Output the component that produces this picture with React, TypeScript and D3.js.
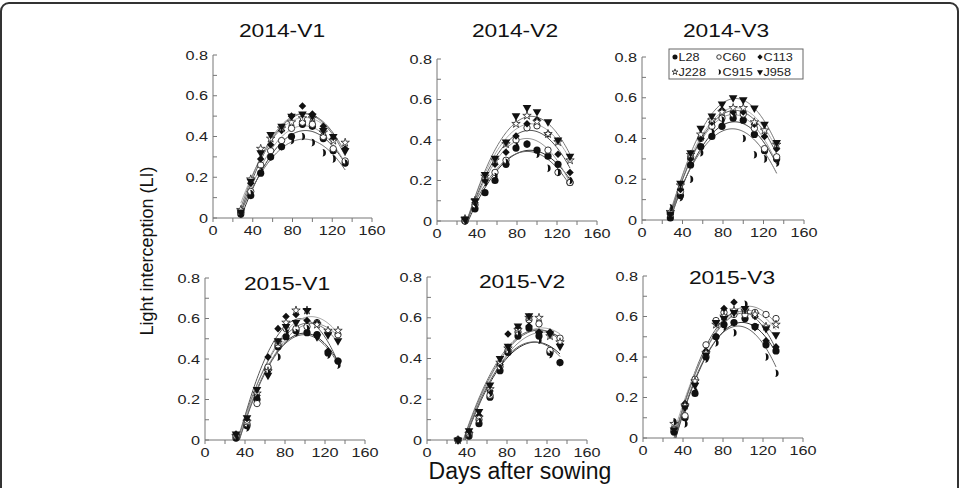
import React from 'react'
import * as d3 from 'd3'

// sampling days (days after sowing)
const days2014 = [28, 38, 48, 58, 69, 79, 90, 100, 111, 121, 133]
const days2015 = [31, 42, 52, 63, 73, 81, 91, 102, 112, 123, 133]

const genotypes = ['L28', 'C60', 'C113', 'J228', 'C915', 'J958']

// light interception, one row per genotype in the order above
const li2014V1 = [
  [0.02, 0.11, 0.22, 0.30, 0.35, 0.40, 0.46, 0.45, 0.39, 0.33, 0.27],
  [0.03, 0.13, 0.26, 0.33, 0.38, 0.44, 0.47, 0.46, 0.40, 0.34, 0.28],
  [0.03, 0.17, 0.29, 0.36, 0.43, 0.50, 0.55, 0.51, 0.45, 0.39, 0.34],
  [0.04, 0.19, 0.34, 0.39, 0.44, 0.47, 0.49, 0.49, 0.42, 0.38, 0.37],
  [0.02, 0.12, 0.23, 0.30, 0.35, 0.38, 0.40, 0.37, 0.32, 0.29, 0.27],
  [0.03, 0.18, 0.32, 0.41, 0.45, 0.50, 0.51, 0.50, 0.43, 0.40, 0.33],
]
const li2014V2 = [
  [0.00, 0.06, 0.14, 0.20, 0.28, 0.36, 0.38, 0.35, 0.32, 0.28, 0.19],
  [0.00, 0.08, 0.21, 0.24, 0.30, 0.40, 0.46, 0.47, 0.35, 0.24, 0.19],
  [0.01, 0.09, 0.20, 0.28, 0.34, 0.42, 0.48, 0.50, 0.43, 0.33, 0.24],
  [0.01, 0.10, 0.22, 0.30, 0.38, 0.48, 0.52, 0.49, 0.43, 0.39, 0.30],
  [0.00, 0.07, 0.19, 0.22, 0.29, 0.37, 0.38, 0.33, 0.26, 0.24, 0.20],
  [0.01, 0.10, 0.23, 0.31, 0.39, 0.52, 0.56, 0.54, 0.49, 0.40, 0.32],
]
const li2014V3 = [
  [0.01, 0.12, 0.27, 0.36, 0.41, 0.46, 0.50, 0.49, 0.42, 0.34, 0.30],
  [0.03, 0.14, 0.31, 0.40, 0.46, 0.50, 0.52, 0.52, 0.45, 0.35, 0.31],
  [0.03, 0.15, 0.30, 0.40, 0.48, 0.54, 0.53, 0.53, 0.47, 0.41, 0.35],
  [0.04, 0.17, 0.32, 0.42, 0.49, 0.53, 0.55, 0.55, 0.48, 0.44, 0.37],
  [0.06, 0.11, 0.20, 0.33, 0.43, 0.49, 0.51, 0.40, 0.32, 0.30, 0.28],
  [0.03, 0.18, 0.33, 0.45, 0.51, 0.57, 0.60, 0.59, 0.55, 0.47, 0.38],
]
const li2015V1 = [
  [0.01, 0.07, 0.20, 0.35, 0.46, 0.51, 0.54, 0.53, 0.52, 0.43, 0.39],
  [0.02, 0.08, 0.18, 0.36, 0.47, 0.55, 0.55, 0.56, 0.58, 0.53, 0.52],
  [0.03, 0.10, 0.22, 0.41, 0.55, 0.61, 0.62, 0.59, 0.58, 0.44, 0.39],
  [0.02, 0.09, 0.23, 0.34, 0.48, 0.58, 0.64, 0.64, 0.57, 0.54, 0.54],
  [0.01, 0.06, 0.21, 0.33, 0.41, 0.53, 0.53, 0.55, 0.51, 0.42, 0.37],
  [0.03, 0.11, 0.25, 0.32, 0.49, 0.56, 0.58, 0.64, 0.51, 0.52, 0.49],
]
const li2015V2 = [
  [0.00, 0.02, 0.08, 0.21, 0.34, 0.43, 0.51, 0.55, 0.51, 0.43, 0.38],
  [0.00, 0.03, 0.10, 0.22, 0.36, 0.44, 0.53, 0.59, 0.57, 0.44, 0.50],
  [0.00, 0.04, 0.12, 0.24, 0.37, 0.52, 0.55, 0.56, 0.53, 0.53, 0.47],
  [0.00, 0.03, 0.11, 0.25, 0.38, 0.45, 0.54, 0.60, 0.60, 0.51, 0.48],
  [0.00, 0.02, 0.09, 0.23, 0.35, 0.44, 0.52, 0.55, 0.49, 0.42, 0.38],
  [0.00, 0.045, 0.14, 0.27, 0.40, 0.46, 0.56, 0.61, 0.52, 0.52, 0.46],
]
const li2015V3 = [
  [0.03, 0.10, 0.22, 0.40, 0.50, 0.56, 0.57, 0.59, 0.55, 0.46, 0.43],
  [0.04, 0.11, 0.29, 0.46, 0.58, 0.62, 0.61, 0.61, 0.62, 0.61, 0.59],
  [0.03, 0.17, 0.27, 0.43, 0.50, 0.64, 0.67, 0.63, 0.60, 0.48, 0.45],
  [0.07, 0.16, 0.28, 0.42, 0.56, 0.60, 0.63, 0.63, 0.61, 0.55, 0.56],
  [0.08, 0.07, 0.23, 0.39, 0.47, 0.55, 0.52, 0.66, 0.55, 0.40, 0.32],
  [0.04, 0.15, 0.26, 0.41, 0.57, 0.59, 0.62, 0.64, 0.55, 0.54, 0.51],
]

const xTicks = [0, 40, 80, 120, 160]
const yTicks = [0, 0.2, 0.4, 0.6, 0.8]

const panels = [
  {title: '2014-V1', days: days2014, values: li2014V1, x: [213, 372], y: [218, 55], tx: 282, ty: 37},
  {title: '2014-V2', days: days2014, values: li2014V2, x: [437, 597], y: [221, 59], tx: 515, ty: 37},
  {title: '2014-V3', days: days2014, values: li2014V3, x: [642, 804], y: [220, 57], tx: 726, ty: 37},
  {title: '2015-V1', days: days2015, values: li2015V1, x: [205, 365], y: [440, 278], tx: 287, ty: 290},
  {title: '2015-V2', days: days2015, values: li2015V2, x: [427, 587], y: [440, 277], tx: 522, ty: 288},
  {title: '2015-V3', days: days2015, values: li2015V3, x: [643, 803], y: [438, 276], tx: 732, ty: 284},
]

const curveColors = ['#333', '#999', '#555', '#aaa', '#666', '#777']
const font = 'Arial, "Liberation Sans", sans-serif'

// least squares quadratic fit, like the trend lines in the paper
function fitQuadratic(xs: number[], ys: number[]) {
  const s = [0, 0, 0, 0, 0]
  const t = [0, 0, 0]
  xs.forEach((x, i) => {
    for (let k = 0; k < 5; k++) s[k] += Math.pow(x, k)
    for (let k = 0; k < 3; k++) t[k] += ys[i] * Math.pow(x, k)
  })
  const m = [
    [s[0], s[1], s[2], t[0]],
    [s[1], s[2], s[3], t[1]],
    [s[2], s[3], s[4], t[2]],
  ]
  for (let c = 0; c < 3; c++) {
    for (let r = c + 1; r < 3; r++) {
      const f = m[r][c] / m[c][c]
      for (let k = c; k < 4; k++) m[r][k] -= f * m[c][k]
    }
  }
  const b = [0, 0, 0]
  for (let r = 2; r >= 0; r--) {
    let v = m[r][3]
    for (let k = r + 1; k < 3; k++) v -= m[r][k] * b[k]
    b[r] = v / m[r][r]
  }
  return (x: number) => b[0] + b[1] * x + b[2] * x * x
}

// filled half-moon, shaped like ")"
const crescent = (r: number) =>
  `M${-r * 0.3},${-r} A${r},${r} 0 0 1 ${-r * 0.3},${r} A${r * 0.3},${r} 0 0 0 ${-r * 0.3},${-r} Z`

const Marker = ({kind, x, y, k = 1}: {kind: number, x: number, y: number, k?: number}) => {
  const tr = `translate(${x},${y}) scale(${k})`
  if (kind === 0) return <circle cx={x} cy={y} r={3.6 * k} fill="#111" />
  if (kind === 1) return <circle cx={x} cy={y} r={3.2 * k} fill="#fff" stroke="#222" strokeWidth={0.9} />
  if (kind === 2) return <path transform={tr} d={d3.symbol(d3.symbolDiamond2, 36)()!} fill="#111" />
  if (kind === 3) return <path transform={tr} d={d3.symbol(d3.symbolStar, 22)()!} fill="#fff" stroke="#222" strokeWidth={0.8 / k} />
  if (kind === 4) return <path transform={tr} d={crescent(3.8)} fill="#111" />
  return <path transform={`${tr} rotate(180)`} d={d3.symbol(d3.symbolTriangle, 32)()!} fill="#111" />
}

const Panel = ({p}: {p: typeof panels[0]}) => {
  const xs = d3.scaleLinear().domain([0, 160]).range(p.x)
  const ys = d3.scaleLinear().domain([0, 0.8]).range(p.y)
  const clipId = 'clip-' + p.title
  const line = d3.line<[number, number]>().x(d => xs(d[0])).y(d => ys(d[1]))
  const d0 = p.days[0], d1 = p.days[p.days.length - 1]
  return (
    <g>
      <clipPath id={clipId}>
        <rect x={p.x[0]} y={p.y[1] - 10} width={p.x[1] - p.x[0]} height={p.y[0] - p.y[1] + 10} />
      </clipPath>
      {/* axes */}
      <line x1={xs(0)} x2={xs(160)} y1={ys(0)} y2={ys(0)} stroke="#777" />
      <line x1={xs(0)} x2={xs(0)} y1={ys(0)} y2={ys(0.8)} stroke="#777" />
      {d3.range(0, 161, 20).map(t => (
        <line key={'xt' + t} x1={xs(t)} x2={xs(t)} y1={ys(0)} y2={ys(0) + 4} stroke="#777" />
      ))}
      {d3.range(0, 9).map(i => (
        <line key={'yt' + i} x1={xs(0)} x2={xs(0) + 4} y1={ys(i / 10)} y2={ys(i / 10)} stroke="#777" />
      ))}
      {xTicks.map(t => (
        <text key={'xl' + t} transform={`translate(${xs(t)},${ys(0) + 17}) scale(1.25,1)`}
          textAnchor="middle" fontSize={13} fill="#222">{t}</text>
      ))}
      {yTicks.map(t => (
        <text key={'yl' + t} transform={`translate(${xs(0) - 5},${ys(t) + 4.5}) scale(1.25,1)`}
          textAnchor="end" fontSize={13} fill="#222">{t === 0 ? '0' : t.toFixed(1)}</text>
      ))}
      <text transform={`translate(${p.tx},${p.ty}) scale(1.2,1)`} textAnchor="middle" fontSize={19} fill="#111">{p.title}</text>
      {/* fitted curves */}
      <g clipPath={`url(#${clipId})`}>
        {p.values.map((vals, gi) => {
          const f = fitQuadratic(p.days, vals)
          const pts = d3.range(d0, d1 + 0.5, 1).map(x => [x, f(x)] as [number, number])
          return <path key={'c' + gi} d={line(pts)!} fill="none" stroke={curveColors[gi]} strokeWidth={1} />
        })}
      </g>
      {/* observations */}
      {p.values.map((vals, gi) => vals.map((v, i) => (
        <Marker key={gi + '-' + i} kind={gi} x={xs(p.days[i])} y={ys(v)} />
      )))}
    </g>
  )
}

const Legend = () => {
  const cols = [675, 719, 760]
  const rows = [57, 72]
  return (
    <g>
      <rect x={669} y={49} width={134} height={30} fill="#fff" stroke="#666" strokeWidth={1} />
      {genotypes.map((g, i) => {
        const x = cols[i % 3], y = rows[Math.floor(i / 3)]
        return (
          <g key={g}>
            <Marker kind={i} x={x} y={y} k={0.7} />
            <text transform={`translate(${x + 3.5},${y + 4}) scale(1.1,1)`} fontSize={11.5} fill="#222">{g}</text>
          </g>
        )
      })}
    </g>
  )
}

export default function App() {
  return (
    <svg width={961} height={488} style={{position: 'absolute', left: 0, top: 0, fontFamily: font}}>
      <rect x={0} y={0} width={961} height={488} fill="#fff" />
      <rect x={1} y={3} width={957} height={520} rx={8} fill="none" stroke="#333" strokeWidth={2} />
      {panels.map(p => <Panel key={p.title} p={p} />)}
      <Legend />
      <text transform="translate(153,251) rotate(-90)" textAnchor="middle" fontSize={18} fill="#111">Light interception (LI)</text>
      <text x={520} y={479} textAnchor="middle" fontSize={23} fill="#111">Days after sowing</text>
    </svg>
  )
}
